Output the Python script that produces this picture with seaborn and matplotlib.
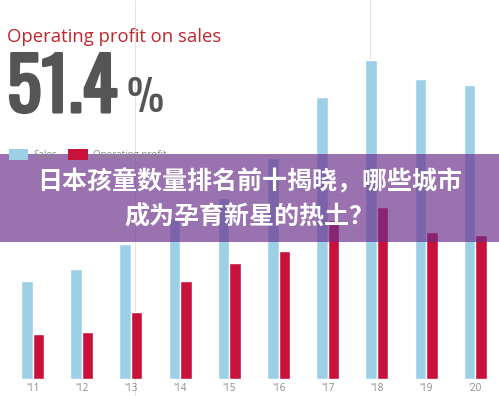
import matplotlib
matplotlib.use("Agg")
import matplotlib.pyplot as plt
import matplotlib.patheffects as pe
from matplotlib import font_manager
from matplotlib.patches import Rectangle, Patch
from matplotlib.lines import Line2D
import seaborn as sns
import pandas as pd

# ---- data (arbitrary units) ----
years = ["'11", "'12", "'13", "'14", "'15", "'16", "'17", "'18", "'19", "'20"]
sales = [98, 110, 135, 161, 181, 221, 282, 319, 300, 294]
operating_profit = [45, 47, 67, 98, 116, 128, 159, 172, 147, 144]
series_names = ["Sales", "Operating profit"]
title_text = "Operating profit on sales"
big_value = "51.4"
banner_lines = ["日本孩童数量排名前十揭晓，哪些城市", "成为孕育新星的热土？"]

df = pd.DataFrame({
    "year": years * 2,
    "series": [series_names[0]] * len(years) + [series_names[1]] * len(years),
    "value": sales + operating_profit,
})

sns.set_theme(style="white")
plt.rcParams['font.family'] = ['Open Sans', 'DejaVu Sans']

names = {f.name for f in font_manager.fontManager.ttflist}
narrow = 'DejaVu Sans'
for cand in ['Oswald', 'Roboto Condensed', 'Archivo Narrow', 'Asap Condensed']:
    if cand in names:
        narrow = cand
        break

W, H = 499, 396
fig = plt.figure(figsize=(W / 100, H / 100), dpi=100)
fig.patch.set_facecolor('white')

ax = fig.add_axes([0, 17 / H, 1, 379 / H])
blue = '#9dcfe7'
red = '#c8113b'
sns.barplot(data=df, x="year", y="value", hue="series", hue_order=series_names,
            palette=[blue, red], width=0.47, saturation=1, legend=False, ax=ax)
ax.set_xlim(-32.5 / 49.2, (W - 32.5) / 49.2)
ax.set_ylim(0, 379)
for s in ax.spines.values():
    s.set_visible(False)
ax.set_yticks([])
ax.set_xlabel("")
ax.set_ylabel("")
ax.tick_params(axis='x', length=0, pad=3, labelsize=7, labelcolor='#8a8a8a')
ax.set_facecolor('none')

# faint vertical guide lines seen in the picture
fig.add_artist(Line2D([135 / W, 135 / W], [0, 1], color='#f3dede', lw=0.8, zorder=0))
fig.add_artist(Line2D([370 / W, 370 / W], [1 - 58 / H, 1], color='#f3dede', lw=0.8, zorder=0))

# title + big number
fig.text(7 / W, 1 - 37 / H, title_text, va='center', ha='left', fontsize=13.3,
         color='#c0272d', family='Open Sans')
fig.text(7 / W, 1 - 112 / H, big_value, va='baseline', ha='left', fontsize=52,
         color='#555555', family=narrow, fontweight='semibold',
         path_effects=[pe.withStroke(linewidth=2.2, foreground='#555555')])
fig.text(127 / W, 1 - 112 / H, "%", va='baseline', ha='left', fontsize=30,
         color='#555555', family=narrow, fontweight='light')

# legend
handles = [Patch(facecolor=blue, edgecolor='none'), Patch(facecolor=red, edgecolor='none')]
fig.legend(handles, series_names, loc='upper left', bbox_to_anchor=(0 / W, 1 - 140 / H),
           ncol=2, frameon=False, fontsize=7, labelcolor='#8a8a8a',
           handlelength=2.0, handleheight=1.4, columnspacing=1.2, handletextpad=0.5)

# banner overlay
fig.add_artist(Rectangle((0, 1 - 242 / H), 1, 88 / H, transform=fig.transFigure,
                         facecolor='#6a308b', alpha=0.68, edgecolor='none', zorder=5))
for i, line in enumerate(banner_lines):
    fig.text(0.5, 1 - (182 + 35 * i) / H, line, ha='center', va='center', fontsize=18,
             color='white', fontweight='black',
             family=['Noto Sans CJK SC', 'DejaVu Sans'], zorder=6)

fig.savefig("out.png", dpi=100)
